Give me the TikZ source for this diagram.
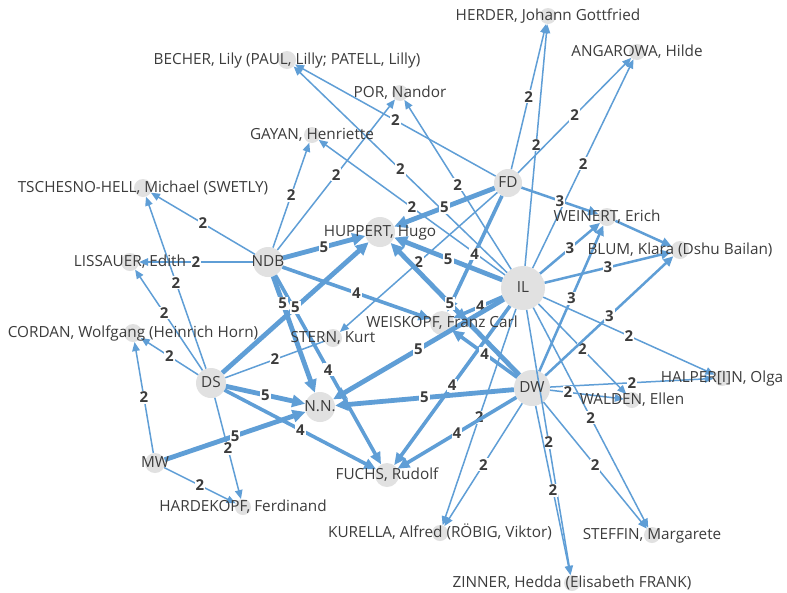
\documentclass[tikz,border=0pt]{standalone}
\usepackage{fontspec}
\setmainfont{Open Sans}
\usetikzlibrary{arrows.meta}
\definecolor{edgeblue}{RGB}{95,158,214}
\definecolor{nodegray}{RGB}{225,225,225}
\definecolor{txt}{RGB}{60,60,60}
\tikzset{
  vtx/.style={circle, fill=nodegray, draw=none, inner sep=0pt, minimum size=#1},
  nm/.style={text=txt, font=\fontsize{15.3}{17}\selectfont, inner sep=0pt, anchor=base},
  lab/.style={fill=white, text=txt, font=\fontsize{15}{17}\selectfont\bfseries, inner sep=1pt},
  e2/.style={draw=edgeblue, line width=1.5pt, -{Triangle[length=9pt,width=7.5pt]}},
  e2n/.style={draw=edgeblue, line width=1.5pt},
  e3/.style={draw=edgeblue, line width=2.5pt, -{Triangle[length=10pt,width=9pt]}},
  e4/.style={draw=edgeblue, line width=3.6pt, -{Triangle[length=12pt,width=10.5pt]}},
  e5/.style={draw=edgeblue, line width=4.8pt, -{Triangle[length=13pt,width=12pt]}},
}
\begin{document}
\begin{tikzpicture}[x=1pt,y=-1pt]
\fill[white] (0,0) rectangle (787,592);
\useasboundingbox (0,0) rectangle (787,592);

% vertices
\node[vtx=16pt] (herder) at (548,16) {};
\node[vtx=16pt] (angarowa) at (637,52) {};
\node[vtx=18pt] (becher) at (287,60) {};
\node[vtx=16pt] (por) at (400,93) {};
\node[vtx=16pt] (gayan) at (312,135) {};
\node[vtx=18pt] (tschesno) at (143,188) {};
\node[vtx=28pt] (fd) at (508,183) {};
\node[vtx=18pt] (weinert) at (607,217) {};
\node[vtx=18pt] (blum) at (680,250) {};
\node[vtx=30pt] (huppert) at (380,232) {};
\node[vtx=30pt] (ndb) at (268,262) {};
\node[vtx=18pt] (lissauer) at (130,262) {};
\node[vtx=44pt] (il) at (523,288) {};
\node[vtx=24pt] (weiskopf) at (442,323) {};
\node[vtx=18pt] (cordan) at (133,333) {};
\node[vtx=18pt] (stern) at (333,338) {};
\node[vtx=30pt] (ds) at (211,383) {};
\node[vtx=30pt] (nn) at (320,407) {};
\node[vtx=36pt] (dw) at (532,388) {};
\node[vtx=16pt] (halperin) at (722,378) {};
\node[vtx=16pt] (walden) at (632,400) {};
\node[vtx=20pt] (mw) at (155,463) {};
\node[vtx=24pt] (fuchs) at (387,475) {};
\node[vtx=16pt] (hardekopf) at (243,507) {};
\node[vtx=16pt] (kurella) at (440,533) {};
\node[vtx=16pt] (steffin) at (652,535) {};
\node[vtx=16pt] (zinner) at (572,583) {};

% weight 2
\draw[e2] (fd) -- node[lab]{2} (herder);
\draw[e2] (il) -- node[lab]{2} (herder);
\draw[e2] (fd) -- node[lab]{2} (angarowa);
\draw[e2] (il) -- node[lab]{2} (angarowa);
\draw[e2] (fd) -- node[lab]{2} (becher);
\draw[e2] (il) -- node[lab]{2} (becher);
\draw[e2] (il) -- node[lab]{2} (por);
\draw[e2] (ndb) -- node[lab]{2} (por);
\draw[e2] (ndb) -- node[lab]{2} (gayan);
\draw[e2] (il) -- node[lab]{2} (gayan);
\draw[e2] (fd) -- node[lab]{2} (stern);
\draw[e2] (ndb) -- node[lab]{2} (tschesno);
\draw[e2] (ndb) -- node[lab]{2} (lissauer);
\draw[e2] (ds) -- node[lab]{2} (tschesno);
\draw[e2] (ds) -- node[lab,pos=0.57]{2} (lissauer);
\draw[e2] (ds) -- node[lab]{2} (cordan);
\draw[e2] (mw) -- node[lab]{2} (cordan);
\draw[e2] (ds) -- node[lab]{2} (hardekopf);
\draw[e2] (mw) -- node[lab]{2} (hardekopf);
\draw[e2n] (ds) -- node[lab]{2} (stern);
\draw[e2] (il) -- node[lab]{2} (halperin);
\draw[e2] (dw) -- node[lab]{2} (halperin);
\draw[e2] (il) -- node[lab]{2} (walden);
\draw[e2] (dw) -- node[lab,pos=0.24]{2} (walden);
\draw[e2] (il) -- node[lab]{2} (steffin);
\draw[e2] (dw) -- node[lab]{2} (steffin);
\draw[e2] (il) -- node[lab]{2} (zinner);
\draw[e2] (dw) -- node[lab]{2} (zinner);
\draw[e2] (il) -- node[lab]{2} (kurella);
\draw[e2] (dw) -- node[lab]{2} (kurella);

% weight 3
\draw[e3] (fd) -- node[lab]{3} (weinert);
\draw[e3] (il) -- node[lab]{3} (weinert);
\draw[e3] (il) -- node[lab]{3} (blum);
\draw[e3] (dw) -- node[lab]{3} (weinert);
\draw[e3] (dw) -- node[lab]{3} (blum);
\draw[e3] (weinert) -- (blum);

% weight 4
\draw[e4] (ndb) -- node[lab]{4} (weiskopf);
\draw[e4] (ndb) -- node[lab]{4} (fuchs);
\draw[e4] (ds) -- node[lab]{4} (fuchs);
\draw[e4] (il) -- node[lab]{4} (fuchs);
\draw[e4] (dw) -- node[lab]{4} (fuchs);
\draw[e4] (il) -- node[lab,pos=0.45]{4} (weiskopf);
\draw[e4] (dw) -- node[lab]{4} (weiskopf);
\draw[e4] (fd) -- node[lab]{4} (weiskopf);

% weight 5
\draw[e5] (ndb) -- node[lab]{5} (huppert);
\draw[e5] (ds) -- node[lab]{5} (huppert);
\draw[e5] (fd) -- node[lab]{5} (huppert);
\draw[e5] (il) -- node[lab]{5} (huppert);
\draw[e5] (dw) -- node[lab,pos=0.54]{5} (huppert);
\draw[e5] (ndb) -- node[lab,pos=0.23]{5} (nn);
\draw[e5] (ds) -- node[lab]{5} (nn);
\draw[e5] (mw) -- node[lab]{5} (nn);
\draw[e5] (il) -- node[lab]{5} (nn);
\draw[e5] (dw) -- node[lab]{5} (nn);

% names
\node[nm] (herder-t) at ([yshift=-4.5pt]herder) {HERDER, Johann Gottfried};
\node[nm] (angarowa-t) at ([yshift=-4.5pt]angarowa) {ANGAROWA, Hilde};
\node[nm] (becher-t) at ([yshift=-4.5pt]becher) {BECHER, Lily (PAUL, Lilly; PATELL, Lilly)};
\node[nm] (por-t) at ([yshift=-4.5pt]por) {POR, Nandor};
\node[nm] (gayan-t) at ([yshift=-4.5pt]gayan) {GAYAN, Henriette};
\node[nm] (tschesno-t) at ([yshift=-4.5pt]tschesno) {TSCHESNO-HELL, Michael (SWETLY)};
\node[nm] (fd-t) at ([yshift=-4.5pt]fd) {FD};
\node[nm] (weinert-t) at ([yshift=-4.5pt]weinert) {WEINERT, Erich};
\node[nm] (blum-t) at ([yshift=-4.5pt]blum) {BLUM, Klara (Dshu Bailan)};
\node[nm] (huppert-t) at ([yshift=-4.5pt]huppert) {HUPPERT, Hugo};
\node[nm] (ndb-t) at ([yshift=-4.5pt]ndb) {NDB};
\node[nm] (lissauer-t) at ([yshift=-4.5pt]lissauer) {LISSAUER, Edith};
\node[nm] (il-t) at ([yshift=-4.5pt]il) {IL};
\node[nm] (weiskopf-t) at ([yshift=-4.5pt]weiskopf) {WEISKOPF, Franz Carl};
\node[nm] (cordan-t) at ([yshift=-4.5pt]cordan) {CORDAN, Wolfgang (Heinrich Horn)};
\node[nm] (stern-t) at ([yshift=-4.5pt]stern) {STERN, Kurt};
\node[nm] (ds-t) at ([yshift=-4.5pt]ds) {DS};
\node[nm] (nn-t) at ([yshift=-4.5pt]nn) {N.N.};
\node[nm] (dw-t) at ([yshift=-4.5pt]dw) {DW};
\node[nm] (halperin-t) at ([yshift=-4.5pt]halperin) {HALPER[I]N, Olga};
\node[nm] (walden-t) at ([yshift=-4.5pt]walden) {WALDEN, Ellen};
\node[nm] (mw-t) at ([yshift=-4.5pt]mw) {MW};
\node[nm] (fuchs-t) at ([yshift=-4.5pt]fuchs) {FUCHS, Rudolf};
\node[nm] (hardekopf-t) at ([yshift=-4.5pt]hardekopf) {HARDEKOPF, Ferdinand};
\node[nm] (kurella-t) at ([yshift=-4.5pt]kurella) {KURELLA, Alfred (RÖBIG, Viktor)};
\node[nm] (steffin-t) at ([yshift=-4.5pt]steffin) {STEFFIN, Margarete};
\node[nm] (zinner-t) at ([yshift=-4.5pt]zinner) {ZINNER, Hedda (Elisabeth FRANK)};
\end{tikzpicture}
\end{document}
